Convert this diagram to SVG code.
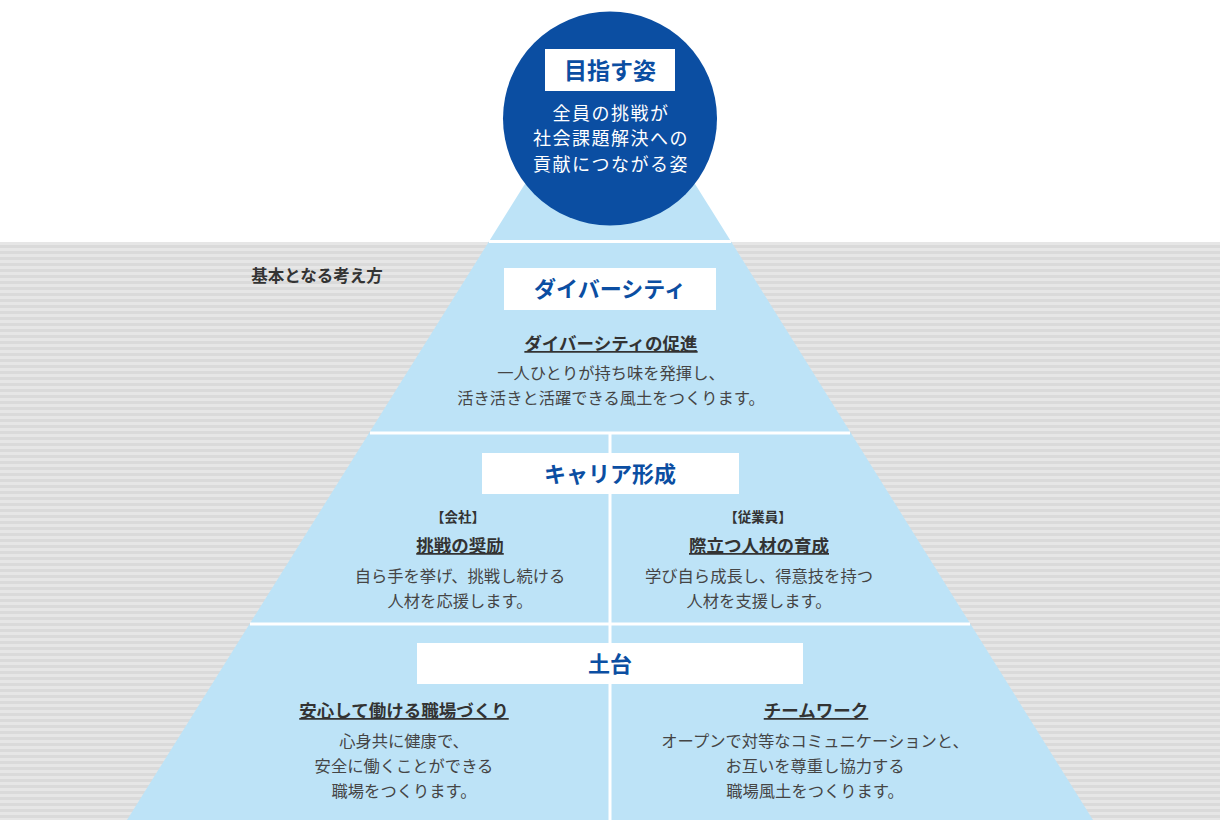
<svg xmlns="http://www.w3.org/2000/svg" width="1220" height="820" viewBox="0 0 1220 820">
<defs>
<pattern id="stripes" x="0" y="242" width="8" height="6" patternUnits="userSpaceOnUse">
<rect x="0" y="0" width="8" height="6" fill="#e6e6e6"/>
<rect x="0" y="3" width="8" height="3" fill="#dadada"/>
</pattern>
</defs>
<style>
text{font-family:"Noto Sans CJK JP","Noto Sans",sans-serif;text-anchor:middle}
.hd{font-weight:700;fill:#0b4ea2;font-size:22px}
.ttl{font-weight:700;fill:#333;font-size:17.5px;text-decoration:underline}
.body{fill:#454545;font-size:16.3px}
.sub{font-weight:700;fill:#333;font-size:13.5px}
.ctr{fill:#fff;font-size:18px;letter-spacing:1.5px}
.box{fill:#ffffff}
.div{stroke:#ffffff;stroke-width:3;fill:none}
</style>
<rect x="0" y="0" width="1220" height="820" fill="#ffffff"/>
<rect x="0" y="242" width="1220" height="578" fill="url(#stripes)"/>
<polygon points="610,48 1093,820 127,820" fill="#bde3f7"/>
<g id="connectors">
<line class="div" x1="489" y1="241.5" x2="731" y2="241.5"/>
<line class="div" x1="370" y1="433" x2="850" y2="433"/>
<line class="div" x1="250" y1="624" x2="970" y2="624"/>
<line class="div" x1="610" y1="433" x2="610" y2="820"/>
</g>
<text x="317" y="282" style="font-weight:700;fill:#333;font-size:16.5px">基本となる考え方</text>
<g id="goal">
<circle cx="610" cy="118.5" r="107" fill="#0b4ea2"/>
<rect class="box" x="545" y="49" width="130" height="42"/>
<text class="hd" x="610" y="79" style="font-size:23px">目指す姿</text>
<text class="ctr" x="611" y="120">全員の挑戦が</text>
<text class="ctr" x="611" y="145">社会課題解決への</text>
<text class="ctr" x="611" y="171">貢献につながる姿</text>
</g>
<g id="diversity">
<rect class="box" x="504" y="268" width="212" height="42"/>
<text class="hd" x="610" y="297">ダイバーシティ</text>
<text class="ttl" x="611" y="350">ダイバーシティの促進</text>
<text class="body" x="611" y="379">一人ひとりが持ち味を発揮し、</text>
<text class="body" x="611" y="404">活き活きと活躍できる風土をつくります。</text>
</g>
<g id="career">
<rect class="box" x="482" y="453" width="257" height="41"/>
<text class="hd" x="610" y="482">キャリア形成</text>
</g>
<g id="company">
<text class="sub" x="458" y="522">【会社】</text>
<text class="ttl" x="460" y="552">挑戦の奨励</text>
<text class="body" x="460" y="582">自ら手を挙げ、挑戦し続ける</text>
<text class="body" x="460" y="607">人材を応援します。</text>
</g>
<g id="employee">
<text class="sub" x="758" y="522">【従業員】</text>
<text class="ttl" x="759" y="552">際立つ人材の育成</text>
<text class="body" x="759" y="582">学び自ら成長し、得意技を持つ</text>
<text class="body" x="759" y="607">人材を支援します。</text>
</g>
<g id="foundation">
<rect class="box" x="417" y="643" width="386" height="41"/>
<text class="hd" x="610" y="672">土台</text>
</g>
<g id="workplace">
<text class="ttl" x="404" y="717">安心して働ける職場づくり</text>
<text class="body" x="404" y="747">心身共に健康で、</text>
<text class="body" x="404" y="772">安全に働くことができる</text>
<text class="body" x="404" y="797">職場をつくります。</text>
</g>
<g id="teamwork">
<text class="ttl" x="816" y="717">チームワーク</text>
<text class="body" x="815" y="747">オープンで対等なコミュニケーションと、</text>
<text class="body" x="815" y="772">お互いを尊重し協力する</text>
<text class="body" x="815" y="797">職場風土をつくります。</text>
</g>
</svg>
